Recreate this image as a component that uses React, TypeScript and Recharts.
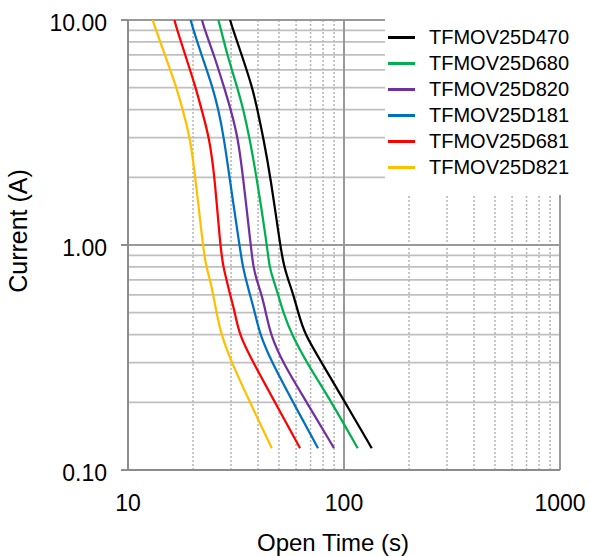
import React from 'react';
import { LineChart, Line, XAxis, YAxis, ReferenceLine, Legend, Label } from 'recharts';

// Current values (A) at which each curve's open time was read
const currents = [10, 9, 7, 5, 4, 3, 2, 1, 0.8, 0.7, 0.6, 0.5, 0.4, 0.3, 0.2, 0.125];

// Open time (s) per series, matching `currents`
const timesD470 = [29.7, 30.7, 33.6, 37.7, 39.7, 42.3, 45.7, 50.6, 52.8, 55.2, 58.3, 61.4, 65.8, 78.9, 101.1, 134.4];
const timesD680 = [26.2, 27.0, 28.8, 32.1, 34.2, 36.5, 39.4, 44.0, 45.1, 47.1, 49.6, 52.4, 57.2, 67.2, 87.7, 115.7];
const timesD820 = [22.0, 22.7, 25.0, 27.9, 29.9, 32.3, 34.1, 37.0, 38.0, 39.4, 41.6, 43.5, 45.7, 52.0, 67.2, 89.9];
const timesD181 = [19.5, 20.1, 21.9, 24.7, 26.2, 27.8, 29.5, 32.8, 34.0, 35.2, 36.7, 38.7, 40.8, 46.4, 58.1, 75.8];
const timesD681 = [16.4, 16.9, 18.4, 20.6, 21.9, 23.8, 25.2, 26.7, 27.6, 28.6, 29.7, 31.3, 32.7, 38.0, 47.9, 62.6];
const timesD821 = [13.0, 13.5, 14.8, 16.8, 17.9, 19.4, 20.5, 22.2, 23.0, 24.0, 24.8, 25.7, 27.0, 30.2, 36.7, 46.3];

const seriesNames = ['TFMOV25D470', 'TFMOV25D680', 'TFMOV25D820', 'TFMOV25D181', 'TFMOV25D681', 'TFMOV25D821'];
const seriesTimes = [timesD470, timesD680, timesD820, timesD181, timesD681, timesD821];
const seriesColors = ['#000000', '#00b050', '#7030a0', '#0070c0', '#ff0000', '#ffc000'];

// Axis ticks and grid values
const xTicks = [10, 100, 1000];
const yTicks = [0.1, 1, 10];
const xMinorGrid = [20, 30, 40, 50, 60, 70, 80, 90, 200, 300, 400, 500, 600, 700, 800, 900];
const xMajorGrid = [100, 1000];
const yMinorGrid = [0.2, 0.3, 0.4, 0.5, 0.6, 0.7, 0.8, 0.9, 2, 3, 4, 5, 6, 7, 8, 9];
const yMajorGrid = [1, 10];

const FONT = '"Liberation Sans", Arial, sans-serif';

const buildSeries = (times: number[]) => currents.map((c, i) => ({ t: times[i], i: c }));

const renderLegend = () => (
  <div style={{ background: '#fff', width: 190, height: 177, paddingTop: 6, boxSizing: 'border-box', fontFamily: FONT }}>
    {seriesNames.map((name, k) => (
      <div key={name} style={{ display: 'flex', alignItems: 'center', height: 26 }}>
        <span style={{ display: 'inline-block', width: 27, height: 3, background: seriesColors[k], marginLeft: 3 }} />
        <span style={{ marginLeft: 14, fontSize: 20, color: '#000', lineHeight: '26px' }}>{name}</span>
      </div>
    ))}
  </div>
);

const renderXLabel = (props: any) => {
  const vb = props.viewBox || {};
  const cx = vb.x + vb.width / 2 - 11;
  const cy = vb.y + 81;
  return (
    <text x={cx} y={cy} textAnchor="middle" fontSize={24} fontFamily={FONT} fill="#000">
      Open Time (s)
    </text>
  );
};

const renderYLabel = (props: any) => {
  const vb = props.viewBox || {};
  const cx = vb.x + 27;
  const cy = vb.y + vb.height / 2 - 14;
  return (
    <text x={cx} y={cy} transform={`rotate(-90 ${cx} ${cy})`} textAnchor="middle" fontSize={25} fontFamily={FONT} fill="#000">
      Current (A)
    </text>
  );
};

export default function App() {
  return (
    <div style={{ position: 'absolute', left: 0, top: 0, fontFamily: FONT }}>
      <LineChart width={590} height={556} margin={{ top: 20, right: 30, bottom: 0, left: 0 }}>
        <XAxis
          dataKey="t"
          type="number"
          scale="log"
          domain={[10, 1000]}
          ticks={xTicks}
          interval={0}
          allowDataOverflow
          axisLine={{ stroke: '#8c8c8c', strokeWidth: 2 }}
          tickLine={false}
          tickSize={0}
          tickMargin={25}
          height={86}
          tick={{ fontSize: 23, fill: '#000', fontFamily: FONT }}
          label={<Label content={renderXLabel} />}
        />
        <YAxis
          dataKey="i"
          type="number"
          scale="log"
          domain={[0.1, 10]}
          ticks={yTicks}
          interval={0}
          allowDataOverflow
          width={128}
          axisLine={{ stroke: '#8c8c8c', strokeWidth: 2 }}
          tickLine={{ stroke: '#8c8c8c', strokeWidth: 2 }}
          tickSize={7}
          tickMargin={14}
          tickFormatter={(v: number) => v.toFixed(2)}
          tick={{ fontSize: 23, fill: '#000', fontFamily: FONT, dy: 3 }}
          label={<Label content={renderYLabel} />}
        />
        {yMinorGrid.map((v) => (
          <ReferenceLine key={'hy' + v} y={v} stroke="#c0c0c0" strokeWidth={1.75} />
        ))}
        {xMinorGrid.map((v) => (
          <ReferenceLine key={'vx' + v} x={v} stroke="#b4b4b4" strokeWidth={1.5} strokeDasharray="2 2" />
        ))}
        {yMajorGrid.map((v) => (
          <ReferenceLine key={'HY' + v} y={v} stroke="#999999" strokeWidth={2} />
        ))}
        {xMajorGrid.map((v) => (
          <ReferenceLine key={'VX' + v} x={v} stroke="#999999" strokeWidth={2} />
        ))}
        {seriesNames.map((name, k) => (
          <Line
            key={name}
            name={name}
            data={buildSeries(seriesTimes[k])}
            dataKey="i"
            type="basis"
            stroke={seriesColors[k]}
            strokeWidth={2.25}
            dot={false}
            activeDot={false}
            isAnimationActive={false}
          />
        ))}
        <Legend
          layout="vertical"
          align="center"
          verticalAlign="middle"
          content={renderLegend}
          wrapperStyle={{ left: 385, top: 18, width: 190, height: 177 }}
        />
      </LineChart>
    </div>
  );
}
